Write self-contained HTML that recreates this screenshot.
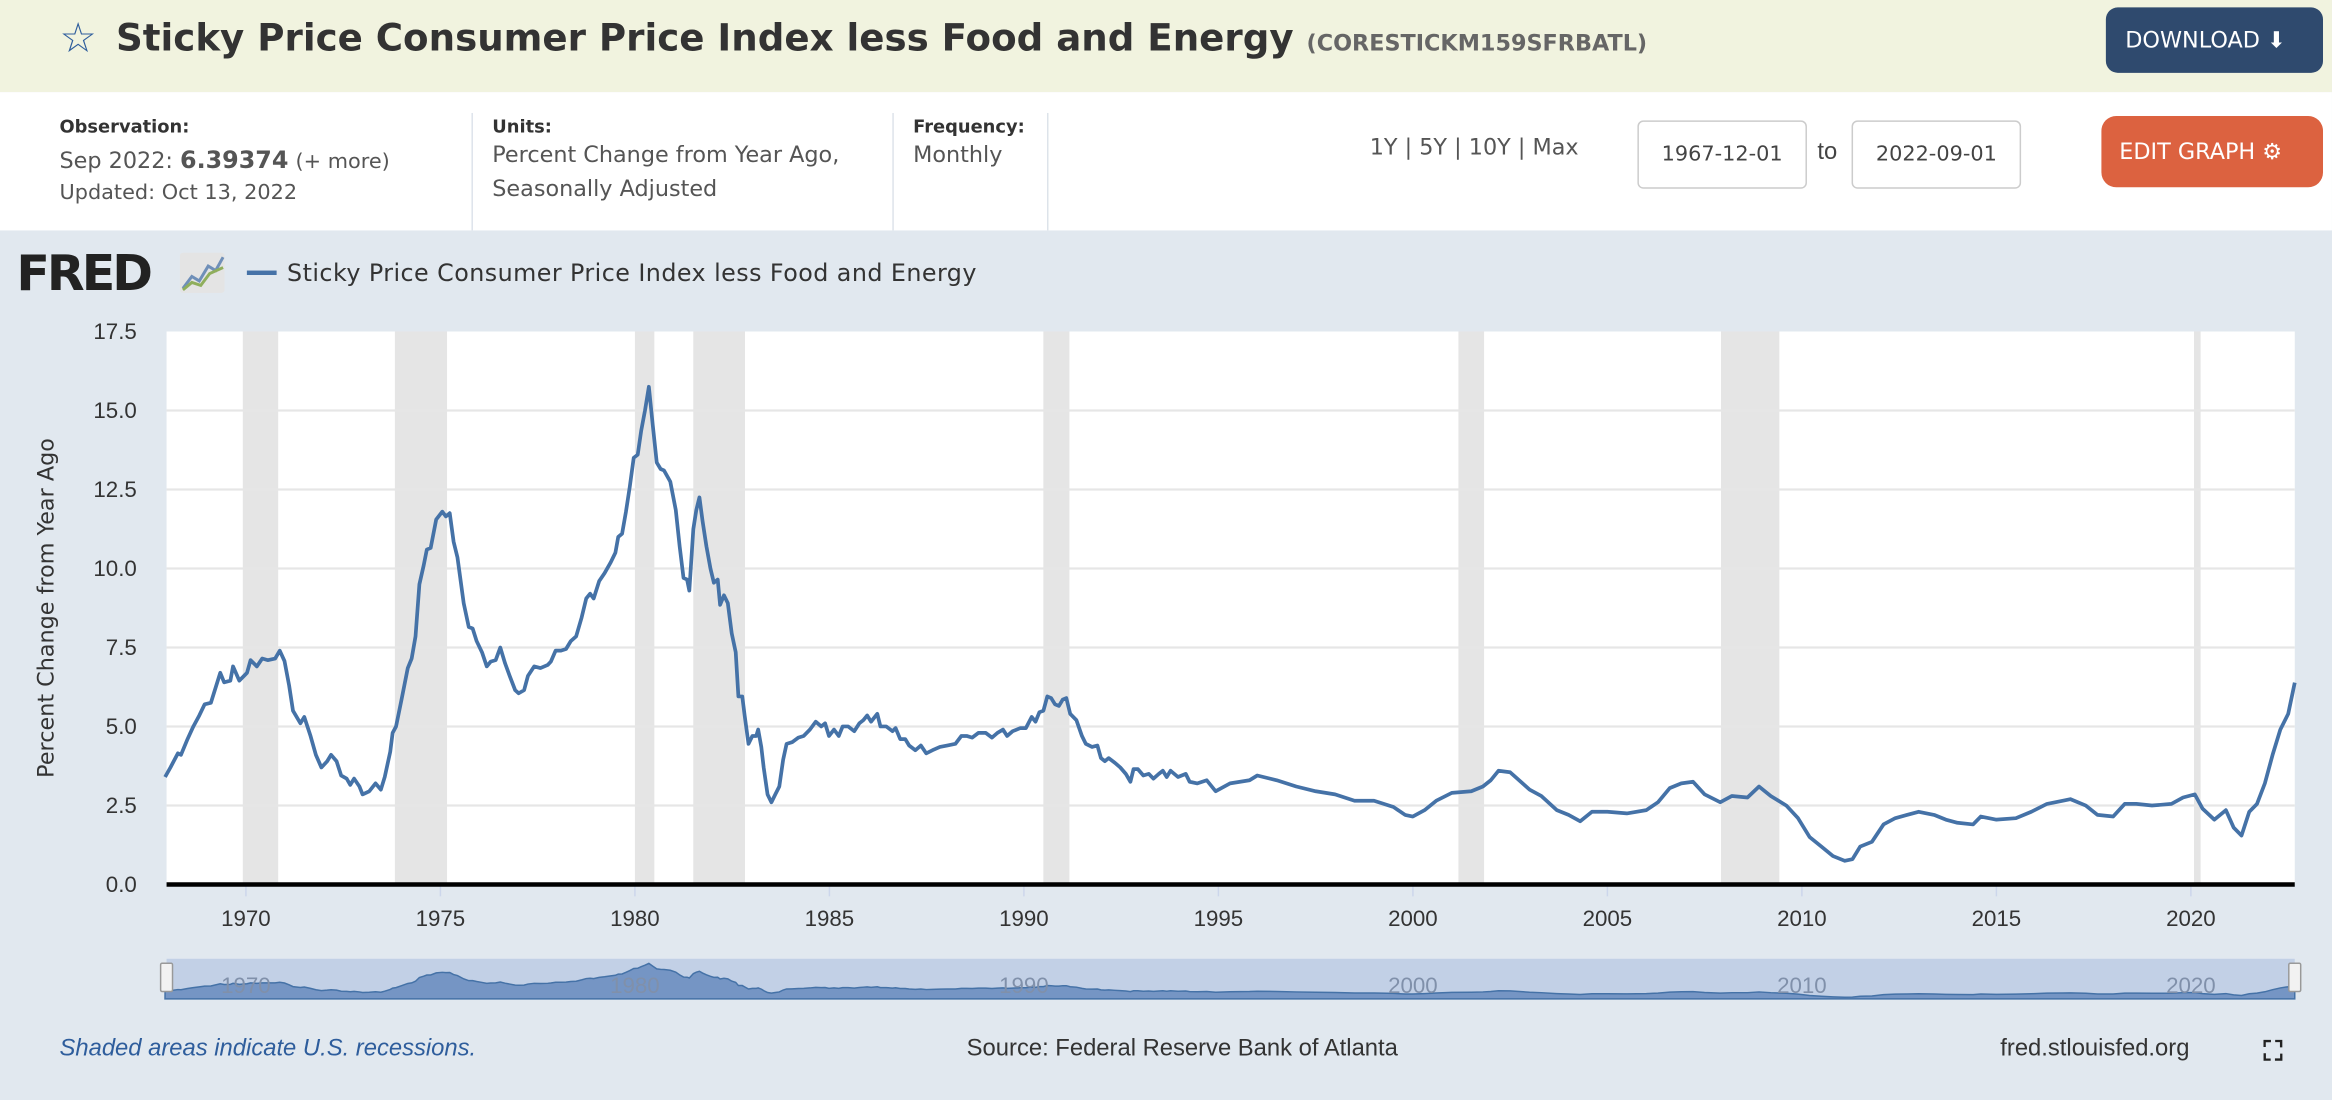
<!DOCTYPE html>
<html><head><meta charset="utf-8">
<style>
html,body{margin:0;padding:0;width:2332px;height:1100px;overflow:hidden;background:#e1e8ef;font-family:"Liberation Sans",sans-serif;}
#wrap{position:absolute;left:0;top:0;width:1568px;height:740px;transform:scale(1.4872,1.4865);transform-origin:0 0;}
.abs{position:absolute;}
#hdr{left:0;top:0;width:1568px;height:62px;background:#f1f3df;}
#info{left:0;top:62px;width:1568px;height:93px;background:#fff;}
.lbl{font-size:12px;font-weight:bold;color:#333;font-family:"DejaVu Sans",sans-serif;}
.val{font-size:15px;color:#555;line-height:23px;font-family:"DejaVu Sans",sans-serif;}
.sep{width:1px;background:#dde3ea;top:76px;height:79px;}
.box{border:1px solid #ccc;border-radius:4px;background:#fff;font-size:14px;color:#444;text-align:center;line-height:44px;height:44px;font-family:"DejaVu Sans",sans-serif;}
</style></head><body>
<div id="wrap">
<div id="hdr" class="abs"></div>
<div class="abs" style="left:40px;top:9px;font-size:28px;color:#2e5d9c;">☆</div>
<div class="abs" style="left:78px;top:11px;font-size:25px;font-weight:bold;color:#333;white-space:nowrap;font-family:'DejaVu Sans',sans-serif;">Sticky Price Consumer Price Index less Food and Energy <span style="font-size:15px;color:#666;">(CORESTICKM159SFRBATL)</span></div>
<div class="abs" style="left:1416px;top:5px;width:146px;height:44px;background:#2f4a6e;border-radius:8px;color:#fff;font-size:15px;line-height:44px;text-indent:13px;font-family:'DejaVu Sans',sans-serif;">DOWNLOAD ⬇</div>
<div id="info" class="abs"></div>
<div class="abs lbl" style="left:40px;top:78px;">Observation:</div>
<div class="abs val" style="left:40px;top:96px;">Sep 2022: <b style="font-size:16px;color:#555">6.39374</b> <span style="font-size:14px">(+ more)</span></div>
<div class="abs" style="left:40px;top:122px;font-size:14px;color:#555;font-family:'DejaVu Sans',sans-serif;">Updated: Oct 13, 2022</div>
<div class="abs sep" style="left:317px"></div>
<div class="abs lbl" style="left:331px;top:78px;">Units:</div>
<div class="abs val" style="left:331px;top:93px;">Percent Change from Year Ago,<br>Seasonally Adjusted</div>
<div class="abs sep" style="left:600px"></div>
<div class="abs lbl" style="left:614px;top:78px;">Frequency:</div>
<div class="abs val" style="left:614px;top:93px;">Monthly</div>
<div class="abs sep" style="left:704px"></div>
<div class="abs" style="left:921px;top:90px;font-size:15px;color:#555;font-family:'DejaVu Sans',sans-serif;">1Y | 5Y | 10Y | Max</div>
<div class="abs box" style="left:1101px;top:81px;width:112px;">1967-12-01</div>
<div class="abs" style="left:1222px;top:94px;font-size:16px;color:#444;">to</div>
<div class="abs box" style="left:1245px;top:81px;width:112px;">2022-09-01</div>
<div class="abs" style="left:1413px;top:78px;width:149px;height:48px;background:#dc6240;border-radius:10px;color:#fff;font-size:15px;line-height:48px;text-indent:12px;font-family:'DejaVu Sans',sans-serif;">EDIT GRAPH ⚙</div>

<div class="abs" style="left:11px;top:164px;font-size:33px;font-weight:900;color:#222;letter-spacing:-2px;font-family:'DejaVu Sans',sans-serif;">FRED</div>
<div class="abs" style="left:121px;top:170px;width:30px;height:27px;background:#e4e4e4;border-radius:2px;overflow:hidden;">
<svg width="30" height="27"><polyline points="2,24 8,16 13,19 19,9 24,12 29,3" fill="none" stroke="#6f8fb8" stroke-width="2"/><polyline points="2,25 8,20 14,22 20,14 29,10" fill="none" stroke="#8fae5c" stroke-width="2"/></svg></div>
<div class="abs" style="left:166px;top:182px;width:20px;height:3px;background:#4572a7;"></div>
<div class="abs" style="left:193px;top:174px;font-size:16px;color:#333;font-family:'DejaVu Sans',sans-serif;letter-spacing:0.3px;">Sticky Price Consumer Price Index less Food and Energy</div>

<svg id="chart" class="abs" style="left:0;top:0" width="1568" height="740"></svg>

<div class="abs" style="left:40px;top:697px;font-size:16px;font-style:italic;color:#2e5d9c;">Shaded areas indicate U.S. recessions.</div>
<div class="abs" style="left:650px;top:697px;font-size:16px;color:#333;">Source: Federal Reserve Bank of Atlanta</div>
<div class="abs" style="left:1345px;top:697px;font-size:16px;color:#333;">fred.stlouisfed.org</div>
<div class="abs" style="left:1522px;top:697px;font-size:18px;color:#222;font-weight:bold;">⛶</div>
</div>
<script>
const dates=[1967.92,1968.06,1968.25,1968.33,1968.5,1968.65,1968.8,1968.94,1969.1,1969.34,1969.44,1969.6,1969.67,1969.83,1970.03,1970.12,1970.28,1970.42,1970.56,1970.75,1970.87,1970.99,1971.11,1971.21,1971.4,1971.5,1971.66,1971.8,1971.94,1972.09,1972.19,1972.33,1972.45,1972.59,1972.68,1972.78,1972.92,1973.0,1973.17,1973.33,1973.47,1973.57,1973.71,1973.77,1973.86,1974.0,1974.16,1974.26,1974.36,1974.46,1974.57,1974.65,1974.75,1974.89,1975.05,1975.14,1975.24,1975.34,1975.44,1975.6,1975.73,1975.83,1975.93,1976.07,1976.19,1976.29,1976.42,1976.54,1976.66,1976.78,1976.92,1977.01,1977.15,1977.25,1977.41,1977.57,1977.76,1977.84,1977.96,1978.1,1978.23,1978.35,1978.49,1978.63,1978.75,1978.85,1978.94,1979.08,1979.22,1979.38,1979.5,1979.57,1979.67,1979.77,1979.87,1979.97,1980.07,1980.16,1980.26,1980.36,1980.46,1980.56,1980.66,1980.75,1980.91,1981.05,1981.15,1981.25,1981.34,1981.4,1981.5,1981.58,1981.66,1981.74,1981.84,1981.94,1982.03,1982.13,1982.19,1982.29,1982.39,1982.49,1982.59,1982.66,1982.76,1982.82,1982.92,1983.02,1983.12,1983.17,1983.25,1983.31,1983.41,1983.51,1983.61,1983.71,1983.81,1983.9,1984.04,1984.2,1984.34,1984.5,1984.65,1984.79,1984.89,1984.99,1985.12,1985.24,1985.34,1985.48,1985.64,1985.77,1985.87,1985.97,1986.07,1986.23,1986.31,1986.46,1986.62,1986.7,1986.82,1986.95,1987.05,1987.21,1987.35,1987.49,1987.65,1987.84,1988.04,1988.24,1988.39,1988.53,1988.67,1988.83,1989.02,1989.18,1989.32,1989.46,1989.57,1989.71,1989.91,1990.05,1990.2,1990.3,1990.4,1990.5,1990.6,1990.7,1990.8,1990.9,1991.0,1991.09,1991.19,1991.35,1991.49,1991.59,1991.75,1991.89,1991.98,1992.08,1992.18,1992.34,1992.48,1992.62,1992.74,1992.82,1992.93,1993.07,1993.21,1993.33,1993.47,1993.57,1993.67,1993.77,1993.96,1994.16,1994.26,1994.46,1994.7,1994.93,1995.3,1995.8,1996.0,1996.5,1997.0,1997.5,1998.0,1998.5,1999.0,1999.5,1999.8,2000.0,2000.3,2000.6,2001.0,2001.5,2001.8,2002.0,2002.2,2002.5,2003.0,2003.3,2003.7,2004.0,2004.3,2004.6,2005.0,2005.5,2006.0,2006.3,2006.6,2006.9,2007.2,2007.5,2007.9,2008.2,2008.6,2008.9,2009.2,2009.6,2009.9,2010.2,2010.5,2010.8,2011.1,2011.3,2011.5,2011.8,2012.1,2012.4,2012.7,2013.0,2013.4,2013.7,2014.0,2014.4,2014.6,2015.0,2015.5,2015.9,2016.3,2016.7,2016.9,2017.3,2017.6,2018.0,2018.3,2018.6,2019.0,2019.5,2019.8,2020.1,2020.3,2020.6,2020.9,2021.1,2021.3,2021.5,2021.7,2021.9,2022.1,2022.3,2022.5,2022.67];
const values=[3.4,3.7,4.15,4.1,4.6,5.0,5.35,5.7,5.75,6.7,6.4,6.45,6.9,6.45,6.7,7.1,6.9,7.15,7.1,7.15,7.4,7.07,6.3,5.5,5.1,5.3,4.7,4.1,3.7,3.9,4.1,3.9,3.45,3.35,3.15,3.35,3.1,2.85,2.95,3.2,3.0,3.4,4.2,4.8,5.0,5.85,6.85,7.15,7.85,9.5,10.1,10.6,10.65,11.55,11.8,11.65,11.75,10.85,10.35,8.9,8.15,8.1,7.7,7.35,6.9,7.05,7.1,7.5,7.0,6.6,6.15,6.05,6.15,6.6,6.9,6.85,6.95,7.05,7.4,7.4,7.45,7.7,7.85,8.45,9.05,9.2,9.05,9.6,9.85,10.2,10.5,11.0,11.1,11.8,12.6,13.5,13.6,14.35,15.0,15.75,14.5,13.35,13.15,13.1,12.75,11.85,10.7,9.7,9.65,9.3,11.25,11.85,12.25,11.5,10.7,10.0,9.55,9.65,8.85,9.15,8.9,7.95,7.35,5.95,5.95,5.35,4.45,4.7,4.7,4.9,4.35,3.7,2.85,2.6,2.85,3.1,3.95,4.45,4.5,4.65,4.7,4.9,5.15,5.0,5.1,4.7,4.9,4.7,5.0,5.0,4.85,5.1,5.2,5.35,5.15,5.4,5.0,5.0,4.85,4.95,4.6,4.6,4.4,4.25,4.4,4.15,4.25,4.35,4.4,4.45,4.7,4.7,4.65,4.8,4.8,4.65,4.8,4.9,4.7,4.85,4.95,4.95,5.3,5.15,5.45,5.5,5.95,5.9,5.7,5.65,5.85,5.9,5.4,5.2,4.7,4.45,4.35,4.4,4.0,3.9,4.0,3.85,3.7,3.5,3.25,3.65,3.65,3.45,3.5,3.35,3.5,3.6,3.4,3.6,3.4,3.5,3.25,3.2,3.3,2.95,3.2,3.3,3.45,3.3,3.1,2.95,2.85,2.65,2.65,2.45,2.2,2.15,2.35,2.65,2.9,2.95,3.1,3.3,3.6,3.55,3.0,2.8,2.35,2.2,2.0,2.3,2.3,2.25,2.35,2.6,3.05,3.2,3.25,2.85,2.6,2.8,2.75,3.1,2.8,2.5,2.1,1.5,1.2,0.9,0.75,0.8,1.2,1.35,1.9,2.1,2.2,2.3,2.2,2.05,1.95,1.9,2.15,2.05,2.1,2.3,2.55,2.65,2.7,2.5,2.2,2.15,2.55,2.55,2.5,2.55,2.75,2.85,2.4,2.05,2.35,1.8,1.55,2.3,2.55,3.2,4.1,4.9,5.4,6.39];
const recStart=[1969.92,1973.83,1980.0,1981.5,1990.5,2001.17,2007.92,2020.08];
const recEnd=[1970.83,1975.17,1980.5,1982.83,1991.17,2001.83,2009.42,2020.25];
const yTicks=[0,2.5,5,7.5,10,12.5,15,17.5];
const yTickLabels=["0.0","2.5","5.0","7.5","10.0","12.5","15.0","17.5"];
const xTicks=[1970,1975,1980,1985,1990,1995,2000,2005,2010,2015,2020];
const navTicks=[1970,1980,1990,2000,2010,2020];

const NS="http://www.w3.org/2000/svg";
const svg=document.getElementById('chart');
const L=112,R=1543,T=223,B=595,X0=1967.96,X1=2022.67,YMAX=17.5;
const xs=d=>L+(d-X0)/(X1-X0)*(R-L);
const ys=v=>B-v/YMAX*(B-T);
function mk(tag,attrs,parent){const e=document.createElementNS(NS,tag);for(const k in attrs)e.setAttribute(k,attrs[k]);(parent||svg).appendChild(e);return e;}

const bg=mk('rect',{x:L,y:T,width:R-L,height:B-T,fill:'#fff'});


for(let i=0;i<recStart.length;i++){
  const r=mk('rect',{x:xs(recStart[i]),y:T,width:xs(recEnd[i])-xs(recStart[i]),height:B-T,fill:'#e5e5e5'});
  
  
}
yTicks.forEach((t,i)=>{
  if(t>0&&t<YMAX){const g=mk('line',{x1:L,x2:R,y1:ys(t),y2:ys(t),stroke:'#e6e6e6','stroke-width':1.5});
  
  }
  const tx=mk('text',{x:92,y:ys(t)+5,'text-anchor':'end','font-size':15,fill:'#333','font-family':'Liberation Sans, sans-serif'});
  tx.textContent=yTickLabels[i];
  
  
});
xTicks.forEach(t=>{
  mk('line',{x1:xs(t),x2:xs(t),y1:B,y2:B+8,stroke:'#ccd6eb','stroke-width':1});
  const tx=mk('text',{x:xs(t),y:B+28,'text-anchor':'middle','font-size':15,fill:'#333','font-family':'Liberation Sans, sans-serif'});
  tx.textContent=t;
  
  
});
const yt=mk('text',{x:0,y:0,transform:'translate(36,409) rotate(-90)','text-anchor':'middle','font-size':15,fill:'#333','font-family':'DejaVu Sans, sans-serif'});
yt.textContent='Percent Change from Year Ago';


const zl=mk('line',{x1:L,x2:R,y1:B,y2:B,stroke:'#000','stroke-width':3});


let d='';dates.forEach((t,i)=>{d+=(i?'L':'M')+xs(t).toFixed(1)+','+ys(values[i]).toFixed(1);});
const line=mk('path',{d:d,fill:'none',stroke:'#4572a7','stroke-width':2.5,'stroke-linejoin':'round'});



const NT=645,NB=672;
const nys=v=>NB-v/16.5*(NB-NT-2);
const nb=mk('rect',{x:L,y:NT,width:R-L,height:NB-NT,fill:'#c2d0e6'});


let nd='M'+xs(dates[0])+','+NB;dates.forEach((t,i)=>{nd+='L'+xs(t).toFixed(1)+','+nys(values[i]).toFixed(1);});nd+='L'+xs(dates[dates.length-1])+','+NB+'Z';
const na=mk('path',{d:nd,fill:'#7595c4',stroke:'#4572a7','stroke-width':1});


navTicks.forEach(t=>{const tx=mk('text',{x:xs(t),y:668,'text-anchor':'middle','font-size':15,fill:'#8090aa','font-family':'Liberation Sans, sans-serif'});tx.textContent=t;

});
[L,R].forEach(x=>{const h=mk('rect',{x:x-4,y:648,width:8,height:19,fill:'#f2f2f2',stroke:'#999',rx:1});

});
</script>
</body></html>
